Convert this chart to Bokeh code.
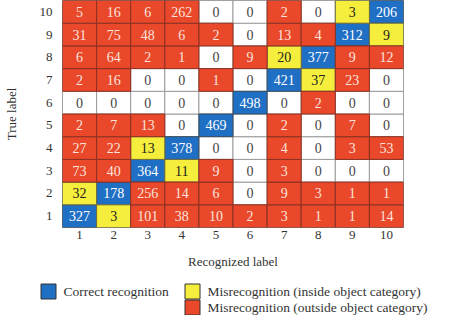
from bokeh.plotting import figure
from bokeh.models import ColumnDataSource, Range1d, FixedTicker
from bokeh.core.properties import value
from bokeh.embed import file_html
from bokeh.resources import INLINE

labels = [1, 2, 3, 4, 5, 6, 7, 8, 9, 10]
# counts: true label (row) vs recognized label (columns 1..10)
row_1 = [327, 3, 101, 38, 10, 2, 3, 1, 1, 14]
row_2 = [32, 178, 256, 14, 6, 0, 9, 3, 1, 1]
row_3 = [73, 40, 364, 11, 9, 0, 3, 0, 0, 0]
row_4 = [27, 22, 13, 378, 0, 0, 4, 0, 3, 53]
row_5 = [2, 7, 13, 0, 469, 0, 2, 0, 7, 0]
row_6 = [0, 0, 0, 0, 0, 498, 0, 2, 0, 0]
row_7 = [2, 16, 0, 0, 1, 0, 421, 37, 23, 0]
row_8 = [6, 64, 2, 1, 0, 9, 20, 377, 9, 12]
row_9 = [31, 75, 48, 6, 2, 0, 13, 4, 312, 9]
row_10 = [5, 16, 6, 262, 0, 0, 2, 0, 3, 206]
# object category of each label (labels sharing a category form a group)
object_category = [1, 1, 2, 2, 3, 4, 5, 5, 6, 6]

legend_labels = ["Correct recognition",
                 "Misrecognition (inside object category)",
                 "Misrecognition (outside object category)"]

rows = [row_1, row_2, row_3, row_4, row_5, row_6, row_7, row_8, row_9, row_10]

BLUE = "#1f6fc4"
YELLOW = "#f6ee3c"
RED = "#e9482b"
FONT = "Liberation Serif"

groups = {k: dict(x=[], y=[], t=[]) for k in ("correct", "inside", "outside", "zero")}
for i, true_lab in enumerate(labels):
    for j, rec_lab in enumerate(labels):
        v = rows[i][j]
        if true_lab == rec_lab:
            k = "correct"
        elif v == 0:
            k = "zero"
        elif object_category[i] == object_category[j]:
            k = "inside"
        else:
            k = "outside"
        groups[k]["x"].append(rec_lab)
        groups[k]["y"].append(true_lab)
        groups[k]["t"].append(str(v))

style = {
    "zero": ("white", "#9a9a9a", "#444444"),
    "correct": (BLUE, "#3a4a5a", "white"),
    "inside": (YELLOW, "#6a6a40", "#222222"),
    "outside": (RED, "#8a3020", "#fbe4dc"),
}

p = figure(width=435, height=271, output_backend="svg", toolbar_location=None,
           x_range=Range1d(0.5, 10.5), y_range=Range1d(0.5, 10.5),
           min_border_left=57, min_border_right=32, min_border_top=0,
           min_border_bottom=0)
p.grid.visible = False
p.outline_line_color = "#888888"
p.background_fill_color = "white"

for k in ("zero", "correct", "inside", "outside"):
    fill, line, tc = style[k]
    src = ColumnDataSource(groups[k])
    p.rect(x="x", y="y", width=1, height=1, source=src,
           fill_color=fill, line_color=line, line_width=1)
    p.text(x="x", y="y", text="t", source=src, text_align="center",
           text_baseline="middle", text_font=value(FONT),
           text_font_size="14px", text_color=tc)

for ax in (p.xaxis[0], p.yaxis[0]):
    ax.ticker = FixedTicker(ticks=labels)
    ax.major_tick_line_color = None
    ax.major_tick_out = 0
    ax.major_tick_in = 0
    ax.minor_tick_line_color = None
    ax.axis_line_color = None
    ax.major_label_text_font = FONT
    ax.major_label_text_font_size = "13px"
    ax.major_label_text_color = "#333333"
    ax.axis_label_text_font = FONT
    ax.axis_label_text_font_size = "13px"
    ax.axis_label_text_font_style = "normal"
    ax.axis_label_text_color = "#333333"

p.xaxis.axis_label = "Recognized label"
p.xaxis.major_label_standoff = 3
p.xaxis.axis_label_standoff = 12
p.yaxis.axis_label = "True label"
p.yaxis.major_label_standoff = 10
p.yaxis.axis_label_standoff = 18

# legend panel (coordinates in pixels of this panel)
LW, LH = 435, 44
q = figure(width=LW, height=LH, output_backend="svg", toolbar_location=None,
           x_range=Range1d(0, LW), y_range=Range1d(0, LH),
           min_border_left=0, min_border_right=0, min_border_top=0,
           min_border_bottom=0)
q.axis.visible = False
q.grid.visible = False
q.outline_line_color = None

legend_keys = ["correct", "inside", "outside"]
sw_x = [48, 192, 192]
sw_y = [24, 24, 8]
q.rect(x=sw_x, y=sw_y, width=15, height=15,
       fill_color=[style[k][0] for k in legend_keys],
       line_color="#333333", line_width=1)
q.text(x=[v + 15 for v in sw_x], y=sw_y, text=legend_labels,
       text_align="left", text_baseline="middle", text_font=value(FONT),
       text_font_size="13.5px", text_color="#333333")

open("out.html", "w").write(file_html([p, q], INLINE))
